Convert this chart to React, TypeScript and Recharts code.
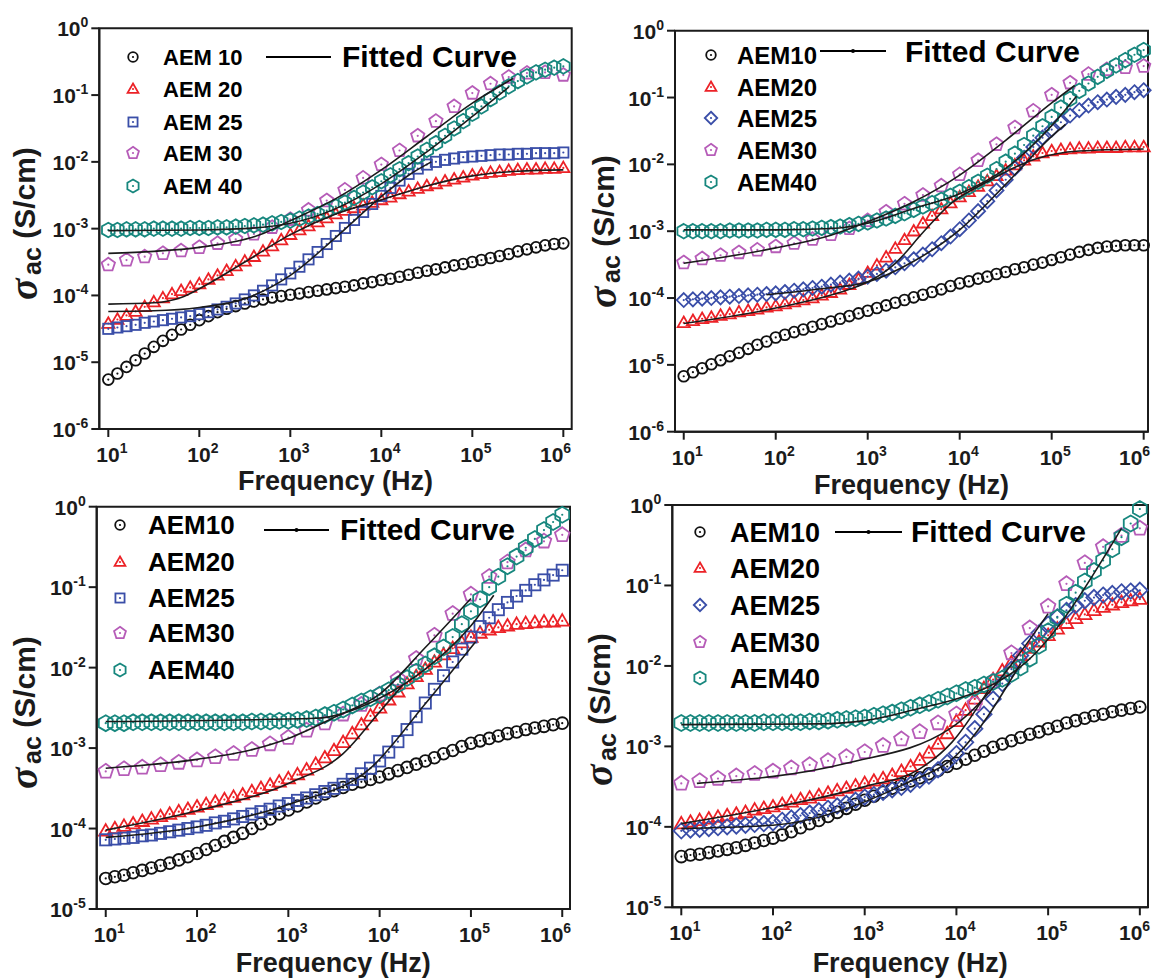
import React from 'react';
import { ScatterChart, Scatter, XAxis, YAxis, ReferenceArea } from 'recharts';

// ---------- shared categories / ticks ----------
const FREQ_EXP = [
  1.0, 1.1, 1.2, 1.3, 1.4, 1.5, 1.6, 1.7, 1.8, 1.9,
  2.0, 2.1, 2.2, 2.3, 2.4, 2.5, 2.6, 2.7, 2.8, 2.9,
  3.0, 3.1, 3.2, 3.3, 3.4, 3.5, 3.6, 3.7, 3.8, 3.9,
  4.0, 4.1, 4.2, 4.3, 4.4, 4.5, 4.6, 4.7, 4.8, 4.9,
  5.0, 5.1, 5.2, 5.3, 5.4, 5.5, 5.6, 5.7, 5.8, 5.9,
  6.0,
];
const FREQ_EXP_PENT = [
  1.0, 1.2, 1.4, 1.6, 1.8, 2.0, 2.2, 2.4, 2.6, 2.8, 3.0, 3.2, 3.4,
  3.6, 3.8, 4.0, 4.2, 4.4, 4.6, 4.8, 5.0, 5.2, 5.4, 5.6, 5.8, 6.0,
];
const X_TICKS = [10, 100, 1000, 10000, 100000, 1000000];
const Y_TICKS_TOP = [1e-6, 1e-5, 1e-4, 1e-3, 1e-2, 1e-1, 1];
const Y_TICKS_BOTTOM = [1e-5, 1e-4, 1e-3, 1e-2, 1e-1, 1];
const NAMES_SPACED = ['AEM 10', 'AEM 20', 'AEM 25', 'AEM 30', 'AEM 40'];
const NAMES_PLAIN = ['AEM10', 'AEM20', 'AEM25', 'AEM30', 'AEM40'];
const X_TITLE = 'Frequency (Hz)';
const FIT_LABEL = 'Fitted Curve';

// ---------- panel 1 (top-left), log10 sigma ----------
const P1_AEM10 = [
  -5.26, -5.17, -5.07, -4.97, -4.87, -4.77, -4.68, -4.59, -4.51, -4.44,
  -4.37, -4.31, -4.25, -4.20, -4.16, -4.12, -4.09, -4.06, -4.03, -4.01,
  -3.99, -3.97, -3.95, -3.93, -3.91, -3.89, -3.87, -3.85, -3.82, -3.80,
  -3.77, -3.75, -3.72, -3.69, -3.66, -3.63, -3.61, -3.58, -3.55, -3.53,
  -3.50, -3.47, -3.44, -3.41, -3.38, -3.34, -3.31, -3.28, -3.25, -3.23,
  -3.22,
];
const P1_AEM20 = [
  -4.42, -4.36, -4.30, -4.24, -4.17, -4.10, -4.04, -3.98, -3.93, -3.88,
  -3.83, -3.76, -3.70, -3.63, -3.56, -3.49, -3.42, -3.34, -3.26, -3.17,
  -3.09, -3.02, -2.96, -2.90, -2.84, -2.78, -2.73, -2.69, -2.65, -2.61,
  -2.57, -2.53, -2.48, -2.44, -2.40, -2.36, -2.33, -2.29, -2.26, -2.23,
  -2.20, -2.18, -2.16, -2.15, -2.13, -2.12, -2.11, -2.11, -2.10, -2.10,
  -2.09,
];
const P1_AEM25 = [
  -4.50, -4.48, -4.46, -4.44, -4.41, -4.39, -4.37, -4.35, -4.33, -4.31,
  -4.28, -4.25, -4.21, -4.17, -4.12, -4.06, -4.00, -3.93, -3.85, -3.76,
  -3.67, -3.57, -3.46, -3.35, -3.23, -3.11, -2.99, -2.87, -2.75, -2.63,
  -2.51, -2.39, -2.28, -2.18, -2.10, -2.04, -2.00, -1.97, -1.95, -1.93,
  -1.92, -1.91, -1.90, -1.89, -1.89, -1.88, -1.88, -1.87, -1.87, -1.87,
  -1.86,
];
const P1_AEM30 = [
  -3.54, -3.47, -3.42, -3.37, -3.33, -3.28, -3.22, -3.16, -3.08, -2.98,
  -2.86, -2.72, -2.58, -2.42, -2.24, -2.04, -1.83, -1.61, -1.39, -1.17,
  -0.97, -0.83, -0.73, -0.67, -0.66, -0.70,
];
const P1_AEM40 = [
  -3.02, -3.02, -3.01, -3.01, -3.01, -3.00, -3.00, -3.00, -3.00, -2.99,
  -2.99, -2.99, -2.98, -2.98, -2.97, -2.96, -2.95, -2.94, -2.92, -2.90,
  -2.88, -2.85, -2.82, -2.78, -2.73, -2.67, -2.61, -2.54, -2.46, -2.38,
  -2.29, -2.20, -2.11, -2.02, -1.92, -1.82, -1.72, -1.61, -1.50, -1.39,
  -1.28, -1.17, -1.06, -0.96, -0.87, -0.79, -0.72, -0.66, -0.62, -0.59,
  -0.57,
];
const P1_FIT_AEM20 = [[1.0, -4.13], [1.5, -4.11], [1.8, -4.03], [2.0, -3.90], [2.5, -3.50], [3.0, -3.09], [3.5, -2.78], [4.0, -2.57], [4.5, -2.36], [5.0, -2.21], [5.5, -2.14], [6.0, -2.12]];
const P1_FIT_AEM25 = [[1.0, -4.24], [1.5, -4.23], [2.0, -4.18], [2.5, -4.05], [3.0, -3.70], [3.5, -3.13], [4.0, -2.52], [4.3, -2.20], [4.55, -2.00]];
const P1_FIT_AEM30 = [[1.0, -3.37], [1.5, -3.34], [2.0, -3.28], [2.65, -3.10], [3.0, -2.88], [3.5, -2.55], [4.0, -2.12], [4.5, -1.62], [5.0, -1.12], [5.45, -0.75]];
const P1_FIT_AEM40 = [[1.0, -3.03], [2.0, -3.02], [2.7, -2.98], [3.0, -2.92], [3.5, -2.70], [4.0, -2.33], [4.5, -1.85], [5.0, -1.32], [5.4, -0.88]];

// ---------- panel 2 (top-right) ----------
const P2_AEM10 = [
  -5.17, -5.11, -5.05, -4.99, -4.93, -4.87, -4.82, -4.76, -4.70, -4.65,
  -4.59, -4.55, -4.51, -4.47, -4.43, -4.39, -4.35, -4.31, -4.27, -4.23,
  -4.19, -4.15, -4.11, -4.07, -4.03, -3.99, -3.95, -3.91, -3.87, -3.82,
  -3.78, -3.75, -3.71, -3.68, -3.64, -3.61, -3.57, -3.54, -3.50, -3.47,
  -3.43, -3.39, -3.35, -3.31, -3.28, -3.25, -3.23, -3.22, -3.21, -3.21,
  -3.21,
];
const P2_AEM20 = [
  -4.37, -4.34, -4.31, -4.29, -4.26, -4.24, -4.21, -4.19, -4.17, -4.14,
  -4.12, -4.09, -4.06, -4.03, -4.00, -3.96, -3.92, -3.87, -3.80, -3.72,
  -3.62, -3.51, -3.39, -3.26, -3.13, -3.00, -2.88, -2.77, -2.67, -2.58,
  -2.49, -2.41, -2.33, -2.25, -2.17, -2.09, -2.01, -1.94, -1.88, -1.83,
  -1.80, -1.78, -1.77, -1.76, -1.76, -1.75, -1.75, -1.75, -1.74, -1.74,
  -1.74,
];
const P2_AEM25 = [
  -4.03, -4.02, -4.01, -4.00, -3.99, -3.98, -3.97, -3.96, -3.95, -3.94,
  -3.93, -3.91, -3.89, -3.87, -3.85, -3.83, -3.80, -3.77, -3.74, -3.71,
  -3.68, -3.64, -3.59, -3.54, -3.48, -3.42, -3.35, -3.27, -3.18, -3.08,
  -2.97, -2.84, -2.70, -2.55, -2.39, -2.23, -2.06, -1.90, -1.74, -1.60,
  -1.48, -1.37, -1.27, -1.19, -1.12, -1.07, -1.03, -0.99, -0.96, -0.92,
  -0.89,
];
const P2_AEM30 = [
  -3.47, -3.41, -3.36, -3.32, -3.28, -3.23, -3.18, -3.12, -3.05, -2.96,
  -2.84, -2.71, -2.59, -2.46, -2.32, -2.15, -1.94, -1.70, -1.45, -1.20,
  -0.96, -0.78, -0.65, -0.58, -0.55, -0.53,
];
const P2_AEM40 = [
  -3.00, -3.00, -3.00, -3.00, -3.00, -2.99, -2.99, -2.99, -2.99, -2.98,
  -2.98, -2.98, -2.97, -2.97, -2.96, -2.95, -2.94, -2.93, -2.91, -2.89,
  -2.87, -2.84, -2.81, -2.77, -2.73, -2.68, -2.63, -2.58, -2.53, -2.47,
  -2.41, -2.34, -2.26, -2.17, -2.07, -1.96, -1.84, -1.71, -1.57, -1.43,
  -1.29, -1.15, -1.02, -0.90, -0.79, -0.69, -0.60, -0.52, -0.44, -0.36,
  -0.29,
];
const P2_FIT_AEM20 = [[1.0, -4.38], [2.0, -4.15], [2.8, -3.87], [3.0, -3.76], [3.3, -3.48], [3.6, -3.02], [3.9, -2.59], [4.3, -2.26], [4.8, -1.93], [5.3, -1.80], [6.0, -1.77]];
const P2_FIT_AEM25 = [[1.9, -3.95], [2.5, -3.86], [3.0, -3.76], [3.5, -3.45], [4.0, -2.98], [4.5, -2.30], [5.0, -1.58], [5.15, -1.40]];
const P2_FIT_AEM30 = [[1.0, -3.48], [2.0, -3.25], [2.6, -3.06], [3.0, -2.86], [3.5, -2.56], [4.0, -2.16], [4.5, -1.64], [5.0, -1.08], [5.25, -0.82]];
const P2_FIT_AEM40 = [[1.0, -2.98], [2.0, -2.98], [2.6, -2.96], [3.0, -2.88], [3.5, -2.66], [4.0, -2.44], [4.5, -2.06], [5.0, -1.42], [5.27, -0.98]];

// ---------- panel 3 (bottom-left) ----------
const P3_AEM10 = [
  -4.62, -4.60, -4.58, -4.55, -4.52, -4.49, -4.46, -4.43, -4.39, -4.35,
  -4.31, -4.26, -4.21, -4.16, -4.11, -4.06, -4.00, -3.94, -3.88, -3.82,
  -3.77, -3.72, -3.67, -3.62, -3.57, -3.53, -3.49, -3.45, -3.42, -3.39,
  -3.36, -3.32, -3.28, -3.24, -3.20, -3.16, -3.12, -3.07, -3.03, -2.98,
  -2.94, -2.91, -2.88, -2.85, -2.82, -2.80, -2.77, -2.75, -2.73, -2.71,
  -2.69,
];
const P3_AEM20 = [
  -4.03, -4.00, -3.97, -3.94, -3.91, -3.88, -3.85, -3.82, -3.79, -3.76,
  -3.73, -3.70, -3.67, -3.64, -3.61, -3.58, -3.54, -3.50, -3.46, -3.42,
  -3.38, -3.33, -3.27, -3.20, -3.12, -3.03, -2.93, -2.82, -2.71, -2.60,
  -2.50, -2.40, -2.30, -2.20, -2.11, -2.02, -1.93, -1.84, -1.76, -1.69,
  -1.62, -1.57, -1.53, -1.50, -1.48, -1.46, -1.45, -1.44, -1.43, -1.43,
  -1.42,
];
const P3_AEM25 = [
  -4.14, -4.13, -4.12, -4.11, -4.09, -4.08, -4.06, -4.04, -4.02, -4.00,
  -3.98, -3.96, -3.93, -3.91, -3.88, -3.85, -3.82, -3.79, -3.76, -3.72,
  -3.69, -3.65, -3.62, -3.58, -3.54, -3.50, -3.45, -3.39, -3.32, -3.25,
  -3.16, -3.05, -2.92, -2.77, -2.61, -2.44, -2.27, -2.10, -1.93, -1.77,
  -1.62, -1.49, -1.38, -1.28, -1.19, -1.11, -1.04, -0.97, -0.91, -0.85,
  -0.79,
];
const P3_AEM30 = [
  -3.29, -3.26, -3.24, -3.21, -3.18, -3.15, -3.11, -3.07, -3.02, -2.95,
  -2.87, -2.78, -2.69, -2.58, -2.46, -2.33, -2.14, -1.89, -1.60, -1.33,
  -1.09, -0.87, -0.69, -0.54, -0.43, -0.35,
];
const P3_AEM40 = [
  -2.69, -2.69, -2.69, -2.68, -2.68, -2.68, -2.68, -2.68, -2.68, -2.68,
  -2.68, -2.68, -2.68, -2.68, -2.68, -2.68, -2.67, -2.67, -2.67, -2.66,
  -2.66, -2.65, -2.64, -2.62, -2.59, -2.56, -2.52, -2.47, -2.42, -2.38,
  -2.34, -2.28, -2.21, -2.13, -2.05, -1.96, -1.86, -1.75, -1.62, -1.46,
  -1.30, -1.15, -1.00, -0.87, -0.74, -0.62, -0.51, -0.40, -0.29, -0.19,
  -0.10,
];
const P3_FIT_AEM20 = [[1.0, -4.02], [2.0, -3.78], [3.0, -3.44], [3.6, -3.07], [4.0, -2.55], [4.25, -2.22]];
const P3_FIT_AEM25 = [[1.0, -4.11], [2.0, -3.98], [3.0, -3.70], [3.9, -3.25], [4.5, -2.45], [5.05, -1.68]];
const P3_FIT_AEM30 = [[1.0, -3.25], [2.0, -3.14], [2.6, -3.02], [3.0, -2.88], [3.5, -2.62], [4.0, -2.33], [4.5, -1.75], [5.0, -1.14]];
const P3_FIT_AEM40 = [[1.0, -2.67], [3.3, -2.63], [4.0, -2.38], [4.5, -2.02], [5.0, -1.48], [5.25, -1.10]];

// ---------- panel 4 (bottom-right) ----------
const P4_AEM10 = [
  -4.37, -4.35, -4.34, -4.32, -4.30, -4.28, -4.26, -4.23, -4.20, -4.17,
  -4.14, -4.10, -4.06, -4.01, -3.96, -3.92, -3.87, -3.82, -3.77, -3.72,
  -3.67, -3.62, -3.57, -3.52, -3.47, -3.43, -3.39, -3.34, -3.30, -3.25,
  -3.21, -3.16, -3.11, -3.06, -3.01, -2.97, -2.93, -2.89, -2.85, -2.82,
  -2.78, -2.75, -2.71, -2.68, -2.65, -2.62, -2.60, -2.57, -2.55, -2.53,
  -2.51,
];
const P4_AEM20 = [
  -3.96, -3.94, -3.92, -3.90, -3.88, -3.86, -3.84, -3.82, -3.79, -3.77,
  -3.75, -3.72, -3.69, -3.66, -3.64, -3.61, -3.58, -3.55, -3.52, -3.49,
  -3.46, -3.43, -3.40, -3.36, -3.31, -3.25, -3.17, -3.08, -2.97, -2.84,
  -2.69, -2.55, -2.41, -2.28, -2.17, -2.06, -1.96, -1.87, -1.78, -1.70,
  -1.62, -1.54, -1.47, -1.41, -1.36, -1.31, -1.27, -1.24, -1.21, -1.19,
  -1.17,
];
const P4_AEM25 = [
  -4.05, -4.04, -4.03, -4.02, -4.01, -4.00, -3.99, -3.98, -3.97, -3.96,
  -3.95, -3.92, -3.89, -3.86, -3.83, -3.80, -3.77, -3.74, -3.71, -3.67,
  -3.63, -3.60, -3.57, -3.54, -3.51, -3.47, -3.42, -3.37, -3.29, -3.20,
  -3.09, -2.95, -2.78, -2.60, -2.41, -2.22, -2.04, -1.87, -1.72, -1.59,
  -1.48, -1.39, -1.31, -1.25, -1.19, -1.15, -1.12, -1.10, -1.08, -1.07,
  -1.06,
];
const P4_AEM30 = [
  -3.46, -3.43, -3.40, -3.37, -3.34, -3.31, -3.27, -3.23, -3.18, -3.13,
  -3.07, -2.99, -2.91, -2.82, -2.71, -2.60, -2.47, -2.19, -1.84, -1.53,
  -1.26, -0.98, -0.72, -0.52, -0.38, -0.29,
];
const P4_AEM40 = [
  -2.71, -2.71, -2.71, -2.71, -2.71, -2.71, -2.71, -2.71, -2.71, -2.70,
  -2.70, -2.70, -2.70, -2.70, -2.69, -2.69, -2.68, -2.67, -2.66, -2.65,
  -2.64, -2.62, -2.60, -2.58, -2.55, -2.52, -2.49, -2.46, -2.42, -2.38,
  -2.34, -2.30, -2.27, -2.23, -2.20, -2.16, -2.10, -2.02, -1.91, -1.75,
  -1.57, -1.40, -1.24, -1.09, -0.95, -0.82, -0.69, -0.55, -0.40, -0.23,
  -0.05,
];
const P4_FIT_AEM20 = [[1.0, -3.96], [2.0, -3.76], [3.0, -3.50], [3.6, -3.28], [3.95, -2.95], [4.35, -2.30]];
const P4_FIT_AEM25 = [[1.0, -4.02], [2.0, -3.98], [3.45, -3.46], [4.0, -3.11], [4.7, -1.97]];
const P4_FIT_AEM30 = [[1.17, -3.46], [2.8, -3.21], [3.93, -2.78], [5.0, -1.35]];
const P4_FIT_AEM40 = [[1.0, -2.73], [2.5, -2.72], [3.0, -2.68], [3.45, -2.57], [4.7, -2.01], [5.8, -0.29]];

// ---------- styling ----------
const FONT = "'Liberation Sans', Arial, Helvetica, sans-serif";
const SERIF = "'Liberation Serif', 'DejaVu Serif', serif";
const INK = '#1b1b1b';
const SERIES_COLORS = ['#111111', '#ec2227', '#3a4ea8', '#b65cb8', '#17877e'];

type Pt = { x: number; y: number };
const toPts = (fe: number[], ve: number[]): Pt[] =>
  fe.map((e, i) => ({ x: Math.pow(10, e), y: Math.pow(10, ve[i]) }));
const fitPts = (pairs: number[][]): Pt[] =>
  pairs.map((p) => ({ x: Math.pow(10, p[0]), y: Math.pow(10, p[1]) }));

function polyPoints(n: number, cx: number, cy: number, r: number, yShift = 0) {
  const pts: string[] = [];
  for (let k = 0; k < n; k++) {
    const a = -Math.PI / 2 + (k * 2 * Math.PI) / n;
    pts.push(`${cx + r * Math.cos(a)},${cy + yShift + r * Math.sin(a)}`);
  }
  return pts.join(' ');
}

function markerEl(kind: string, cx: number, cy: number, color: string, s: number, key?: any) {
  const common = { fill: 'none', stroke: color, strokeWidth: 1.8 } as any;
  let el: any;
  if (kind === 'circle') el = <circle cx={cx} cy={cy} r={s} {...common} />;
  else if (kind === 'square') el = <rect x={cx - s * 0.95} y={cy - s * 0.95} width={s * 1.9} height={s * 1.9} {...common} />;
  else if (kind === 'triangle') el = <polygon points={polyPoints(3, cx, cy, s * 1.3, s * 0.15)} {...common} />;
  else if (kind === 'diamond') el = <polygon points={polyPoints(4, cx, cy, s * 1.3)} {...common} />;
  else if (kind === 'pentagon') el = <polygon points={polyPoints(5, cx, cy, s * 1.3)} {...common} />;
  else el = <polygon points={polyPoints(6, cx, cy, s * 1.35)} {...common} />;
  return (
    <g key={key}>
      {el}
      <circle cx={cx} cy={cy} r={1.1} fill={color} />
    </g>
  );
}

function XTick(props: any) {
  const { x, y, payload } = props;
  const e = Math.round(Math.log10(payload.value));
  return (
    <text x={x - 12} y={y + 23} fontFamily={FONT} fontWeight="bold" fontSize={21} fill={INK}>
      <tspan>10</tspan>
      <tspan dy={-9} fontSize={14}>{e}</tspan>
    </text>
  );
}

function YTick(props: any) {
  const { x, y, payload } = props;
  const e = Math.round(Math.log10(payload.value));
  return (
    <text x={x - 1} y={y + 8} textAnchor="end" fontFamily={FONT} fontWeight="bold" fontSize={21} fill={INK}>
      <tspan>10</tspan>
      <tspan dy={-9} fontSize={14}>{e}</tspan>
    </text>
  );
}

type PanelCfg = {
  left: number; top: number; width: number; height: number;
  plot: { x: number; y: number; w: number; h: number };
  xlo: number; xhi: number; yTicks: number[];
  s: number; kinds: string[]; names: string[];
  series: number[][]; fits: number[][][];
  xTitleBase: number; yTitle: { x: number; bottom: number };
  legend: { mx: number; tx: number; rows: number[]; fs: number; line: number[]; dot: boolean; ftx: number; fbase: number };
};

const PANELS: PanelCfg[] = [
  {
    left: 0, top: 0, width: 580, height: 500,
    plot: { x: 99.3, y: 28.3, w: 472.4, h: 400.7 },
    xlo: 0.901, xhi: 6.092, yTicks: Y_TICKS_TOP, s: 5.4,
    kinds: ['circle', 'triangle', 'square', 'pentagon', 'hexagon'], names: NAMES_SPACED,
    series: [P1_AEM10, P1_AEM20, P1_AEM25, P1_AEM30, P1_AEM40],
    fits: [P1_FIT_AEM20, P1_FIT_AEM25, P1_FIT_AEM30, P1_FIT_AEM40],
    xTitleBase: 490, yTitle: { x: 37, bottom: 300 },
    legend: { mx: 133, tx: 163, rows: [57, 89, 122, 153, 186], fs: 22, line: [266, 331, 57], dot: false, ftx: 342, fbase: 67 },
  },
  {
    left: 570, top: 0, width: 589, height: 500,
    plot: { x: 675, y: 30.7, w: 473, h: 401 },
    xlo: 0.905, xhi: 6.047, yTicks: Y_TICKS_TOP, s: 5.4,
    kinds: ['circle', 'triangle', 'diamond', 'pentagon', 'hexagon'], names: NAMES_PLAIN,
    series: [P2_AEM10, P2_AEM20, P2_AEM25, P2_AEM30, P2_AEM40],
    fits: [P2_FIT_AEM20, P2_FIT_AEM25, P2_FIT_AEM30, P2_FIT_AEM40],
    xTitleBase: 494, yTitle: { x: 616, bottom: 308 },
    legend: { mx: 711, tx: 737, rows: [55, 87, 118, 150, 182], fs: 24, line: [820, 886, 51], dot: true, ftx: 905, fbase: 62 },
  },
  {
    left: 0, top: 490, width: 580, height: 489,
    plot: { x: 96.7, y: 506.7, w: 473.3, h: 402.3 },
    xlo: 0.901, xhi: 6.085, yTicks: Y_TICKS_BOTTOM, s: 5.9,
    kinds: ['circle', 'triangle', 'square', 'pentagon', 'hexagon'], names: NAMES_PLAIN,
    series: [P3_AEM10, P3_AEM20, P3_AEM25, P3_AEM30, P3_AEM40],
    fits: [P3_FIT_AEM20, P3_FIT_AEM25, P3_FIT_AEM30, P3_FIT_AEM40],
    xTitleBase: 972, yTitle: { x: 37, bottom: 789 },
    legend: { mx: 120, tx: 148, rows: [525, 562, 598, 633, 670], fs: 26, line: [264, 329, 530], dot: true, ftx: 340, fbase: 540 },
  },
  {
    left: 570, top: 490, width: 589, height: 489,
    plot: { x: 672.3, y: 505, w: 475.7, h: 402.3 },
    xlo: 0.902, xhi: 6.089, yTicks: Y_TICKS_BOTTOM, s: 5.9,
    kinds: ['circle', 'triangle', 'diamond', 'pentagon', 'hexagon'], names: NAMES_PLAIN,
    series: [P4_AEM10, P4_AEM20, P4_AEM25, P4_AEM30, P4_AEM40],
    fits: [P4_FIT_AEM20, P4_FIT_AEM25, P4_FIT_AEM30, P4_FIT_AEM40],
    xTitleBase: 972, yTitle: { x: 612, bottom: 786 },
    legend: { mx: 700, tx: 730, rows: [532, 568, 605, 642, 678], fs: 27, line: [835, 902, 532], dot: true, ftx: 911, fbase: 542 },
  },
];

const axisStyle = { stroke: INK, strokeWidth: 2 };

function YTitle({ bx, by }: { bx: number; by: number }) {
  return (
    <g transform={`translate(${bx} ${by}) rotate(-90)`}>
      <text x={0} y={0} fontFamily={SERIF} fontStyle="italic" fontWeight="bold" fontSize={40} fill={INK}>σ</text>
      <text x={25} y={-2} fontFamily={FONT} fontWeight="bold" fill={INK}>
        <tspan fontSize={25} dy={6}>ac</tspan>
        <tspan fontSize={30} dy={-6}> (S/cm)</tspan>
      </text>
    </g>
  );
}

function Panel({ cfg, idx }: { cfg: PanelCfg; idx: number }) {
  const { left, top, width, height, plot } = cfg;
  const margin = {
    top: plot.y - top,
    right: left + width - (plot.x + plot.w),
    left: 0,
    bottom: 0,
  };
  const yAxisW = plot.x - left;
  const xAxisH = top + height - (plot.y + plot.h);
  const yMin = cfg.yTicks[0];
  const xMin = Math.pow(10, cfg.xlo);
  const xMax = Math.pow(10, cfg.xhi);
  const tx = plot.x - left + plot.w / 2;
  const ty = cfg.xTitleBase - top;
  const yx = cfg.yTitle.x - left;
  const yb = cfg.yTitle.bottom - top;

  return (
    <div style={{ position: 'absolute', left, top, width, height }}>
      <ScatterChart width={width} height={height} margin={margin}>
        <XAxis
          dataKey="x" type="number" scale="log"
          domain={[xMin, xMax]}
          ticks={X_TICKS} height={xAxisH} tickSize={8}
          axisLine={axisStyle} tickLine={axisStyle}
          tick={(p: any) => <XTick {...p} />}
          label={{
            content: () => (
              <text x={tx} y={ty} textAnchor="middle" fontFamily={FONT} fontWeight="bold" fontSize={27} fill={INK}>
                {X_TITLE}
              </text>
            ),
          }}
        />
        <YAxis
          dataKey="y" type="number" scale="log"
          domain={[yMin, 1]} ticks={cfg.yTicks} width={yAxisW} tickSize={8}
          axisLine={axisStyle} tickLine={axisStyle}
          tick={(p: any) => <YTick {...p} />}
          label={{ content: () => <YTitle bx={yx} by={yb} /> }}
        />
        <ReferenceArea
          x1={xMin} x2={xMax} y1={yMin} y2={1}
          fill="none" fillOpacity={0} stroke={INK} strokeWidth={2}
          ifOverflow="visible"
        />
        {cfg.series.map((vals, i) => {
          const fe = vals.length === FREQ_EXP.length ? FREQ_EXP : FREQ_EXP_PENT;
          const kind = cfg.kinds[i];
          const color = SERIES_COLORS[i];
          return (
            <Scatter
              key={`s${idx}-${i}`}
              name={cfg.names[i]}
              data={toPts(fe, vals)}
              isAnimationActive={false}
              shape={(p: any) => markerEl(kind, p.cx, p.cy, color, cfg.s)}
            />
          );
        })}
        {cfg.fits.map((f, i) => (
          <Scatter
            key={`f${idx}-${i}`}
            name={`fit${i}`}
            data={fitPts(f)}
            isAnimationActive={false}
            line={{ stroke: INK, strokeWidth: 1.6 }}
            lineJointType="monotoneX"
            shape={() => <g />}
          />
        ))}
      </ScatterChart>
    </div>
  );
}

function Legends() {
  return (
    <svg width={1159} height={979} style={{ position: 'absolute', left: 0, top: 0, pointerEvents: 'none' }}>
      {PANELS.map((cfg, pi) => {
        const L = cfg.legend;
        return (
          <g key={`lg${pi}`}>
            {cfg.names.map((nm, i) => (
              <g key={`li${pi}-${i}`}>
                {markerEl(cfg.kinds[i], L.mx, L.rows[i], SERIES_COLORS[i], 4.8)}
                <text x={L.tx} y={L.rows[i] + L.fs * 0.36} fontFamily={FONT} fontWeight="bold" fontSize={L.fs} fill="#000">
                  {nm}
                </text>
              </g>
            ))}
            <line x1={L.line[0]} x2={L.line[1]} y1={L.line[2]} y2={L.line[2]} stroke="#000" strokeWidth={2} />
            {L.dot ? <circle cx={(L.line[0] + L.line[1]) / 2} cy={L.line[2]} r={2} fill="#000" /> : null}
            <text x={L.ftx} y={L.fbase} fontFamily={FONT} fontWeight="bold" fontSize={30} fill="#000">
              {FIT_LABEL}
            </text>
          </g>
        );
      })}
    </svg>
  );
}

export default function App() {
  return (
    <div style={{ position: 'absolute', left: 0, top: 0, width: 1159, height: 979, background: '#fff' }}>
      {PANELS.map((cfg, i) => (
        <Panel key={`p${i}`} cfg={cfg} idx={i} />
      ))}
      <Legends />
    </div>
  );
}
